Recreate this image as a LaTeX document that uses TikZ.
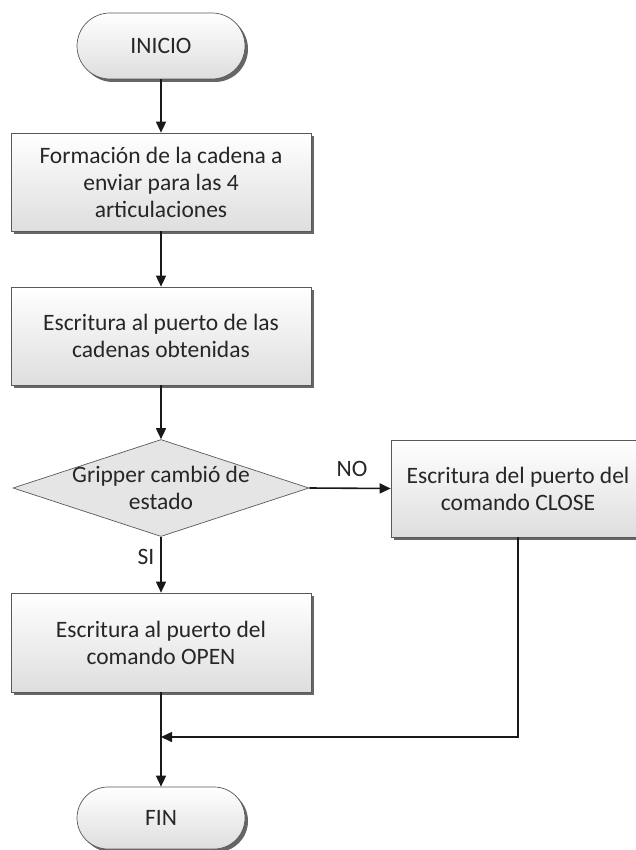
\documentclass[tikz,border=0pt]{standalone}
\usepackage{fontspec}
\setmainfont{Carlito}
\usetikzlibrary{shapes.geometric,arrows.meta,shadows}
\begin{document}
\begin{tikzpicture}[x=1pt,y=-1pt,
  font=\fontsize{23.5}{27}\selectfont,
  base/.style={draw=black!65, line width=0.7pt, text=black!85, align=center, inner sep=0pt,
    top color=white, bottom color=black!13,
    drop shadow={shadow xshift=3pt, shadow yshift=-3pt, fill=black!60, opacity=1}},
  proc/.style={base, rectangle, minimum width=300pt, minimum height=98pt},
  term/.style={base, rectangle, rounded corners=33pt, minimum width=168pt, minimum height=66pt},
  dec/.style={diamond, draw=black!65, line width=0.7pt, fill=black!10, minimum width=296pt, minimum height=97pt, inner sep=0pt},
  flow/.style={line width=1.6pt, draw=black!90, -{Triangle[length=11pt,width=10pt]}},
  lbl/.style={text=black!85, inner sep=0pt, align=center}]
\useasboundingbox (0,0) rectangle (635,850);
\node[term] (ini) at (161,46) {INICIO};
\node[proc] (b1) at (161,182) {Formación de la cadena a\\enviar para las 4\\articulaciones};
\node[proc] (b2) at (161,336) {Escritura al puerto de las\\cadenas obtenidas};
\node[dec] (d) at (161,488) {};
\node[lbl] (dt) at (d.center) {Gripper cambió de\\estado};
\node[proc, minimum width=254pt, minimum height=97pt] (cl) at (518,488.5) {Escritura del puerto del\\comando CLOSE};
\node[proc, minimum height=99pt] (op) at (161,642.5) {Escritura al puerto del\\comando OPEN};
\node[term, minimum height=62pt, rounded corners=31pt] (fin) at (161,818) {FIN};
\node[lbl] (no) at (352,469) {NO};
\node[lbl] (si) at (146,557) {SI};
\coordinate (m) at (161,737);
\draw[flow] (ini) -- (b1);
\draw[flow] (b1) -- (b2);
\draw[flow] (b2) -- (d);
\draw[flow] (d.east) -- (cl.west);
\draw[flow] (d.south) -- (op.north);
\draw[flow] (op) -- (fin);
\draw[flow] (cl.south) |- (m);
\end{tikzpicture}
\end{document}
